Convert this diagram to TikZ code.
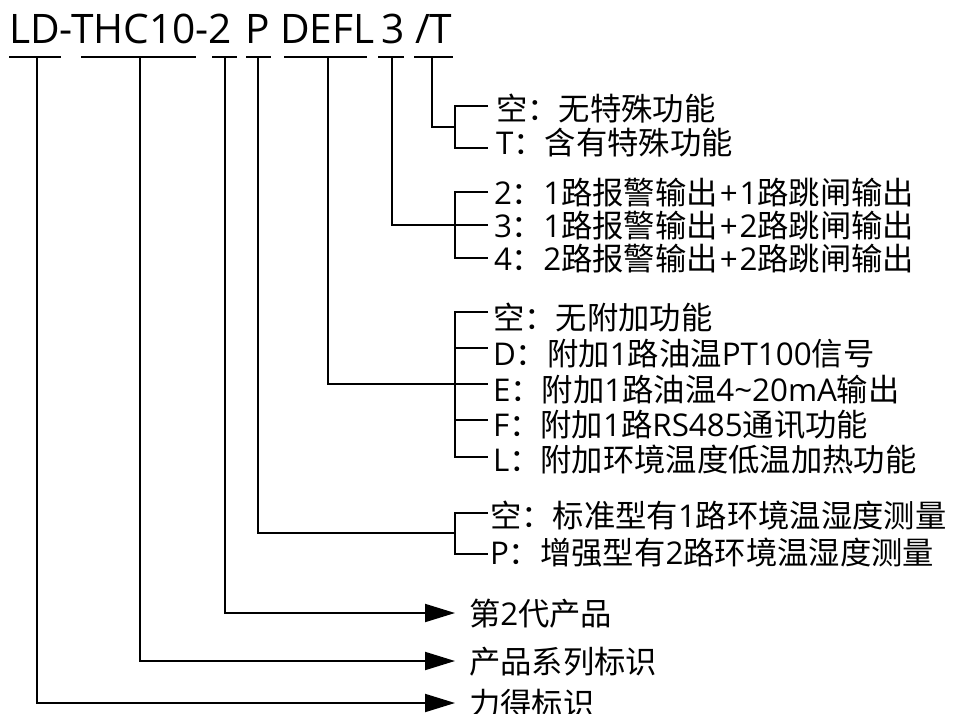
\documentclass[tikz,border=0pt]{standalone}
\usepackage{fontspec}
\setmainfont{Noto Sans CJK SC}
\newfontfamily\latfont{Open Sans}
\newcommand\latx[1]{{\latfont #1}}
\newcommand\plusx[1]{\latx{\hspace{1.5pt}+\hspace{1.5pt}#1}}
\usetikzlibrary{arrows.meta}
\begin{document}
\begin{tikzpicture}[x=0.75pt,y=-0.75pt,line width=1.5pt,
  item/.style={anchor=base west,inner sep=0pt,font=\fontsize{23.5}{28}\selectfont},
  headtxt/.style={anchor=base west,inner sep=0pt,font=\latfont\fontsize{30.5}{36}\selectfont},
  arr/.style={-{Triangle[length=22.5pt,width=13.5pt]}}]
\useasboundingbox (0,0) rectangle (954,714);
\clip (0,0) rectangle (954,714);
% header
\node[headtxt] (hLD) at (8,43) {LD-THC10-2};
\node[headtxt] (hP) at (244.5,43) {P};
\node[headtxt] (hD) at (279,43) {DEFL};
\node[headtxt] (h3) at (380,43) {3};
\node[headtxt] (hT) at (414,43) {/T};
% underlines
\foreach \a/\b in {9/61,81/196,212/237,246/271,284/367,378/404,414/453}
  \draw (\a,57) -- (\b,57);
% drop points
\coordinate (dLD) at (37,57);
\coordinate (dTHC) at (140,57);
\coordinate (d2) at (225,57);
\coordinate (dP) at (258,57);
\coordinate (dDEFL) at (328,57);
\coordinate (d3) at (392,57);
\coordinate (dT) at (432,57);
% /T group
\coordinate (bT) at (455,127);
\draw (dT) |- (bT);
\draw (488,106) -| (455,148) -- (488,148);
\node[item] (t1) at (495,120) {空：无特殊功能};
\node[item] (t2) at (495,154) {\latx{T}：含有特殊功能};
% 3 group
\coordinate (b3) at (455,225);
\draw (d3) |- (b3);
\draw (488,192) -| (455,258) -- (488,258);
\draw (b3) -- (488,225);
\node[item] (r2) at (493,204) {\latx{2}：\latx{1}路报警输出\plusx{1}路跳闸输出};
\node[item] (r3) at (493,237) {\latx{3}：\latx{1}路报警输出\plusx{2}路跳闸输出};
\node[item] (r4) at (493,270) {\latx{4}：\latx{2}路报警输出\plusx{2}路跳闸输出};
% DEFL group
\coordinate (bD) at (455,384);
\draw (dDEFL) |- (bD);
\draw (488,312) -| (455,457) -- (488,457);
\foreach \y in {348,384,420} \draw (455,\y) -- (488,\y);
\node[item] (e0) at (492,329) {空：无附加功能};
\node[item] (eD) at (492,365) {\latx{D}：附加\latx{1}路油温\latx{PT100}信号};
\node[item] (eE) at (492,401) {\latx{E}：附加\latx{1}路油温\latx{4\char"7E 20mA}输出};
\node[item] (eF) at (492,436) {\latx{F}：附加\latx{1}路\latx{RS485}通讯功能};
\node[item] (eL) at (492,471) {\latx{L}：附加环境温度低温加热功能};
% P group
\coordinate (bP) at (455,533);
\draw (dP) |- (bP);
\draw (488,513) -| (455,554) -- (488,554);
\node[item] (p0) at (489,527) {空：标准型有\latx{1}路环境温湿度测量};
\node[item] (pP) at (489,564) {\latx{P}：增强型有\latx{2}路环境温湿度测量};
% arrows
\coordinate (a2) at (455,613);
\coordinate (aTHC) at (455,661);
\coordinate (aLD) at (455,703);
\draw[arr] (d2) |- (a2);
\draw[arr] (dTHC) |- (aTHC);
\draw[arr] (dLD) |- (aLD);
\node[item] (l2) at (468,625) {第\latx{2}代产品};
\node[item] (lTHC) at (468,673) {产品系列标识};
\node[item] (lLD) at (468,715) {力得标识};
\end{tikzpicture}
\end{document}
